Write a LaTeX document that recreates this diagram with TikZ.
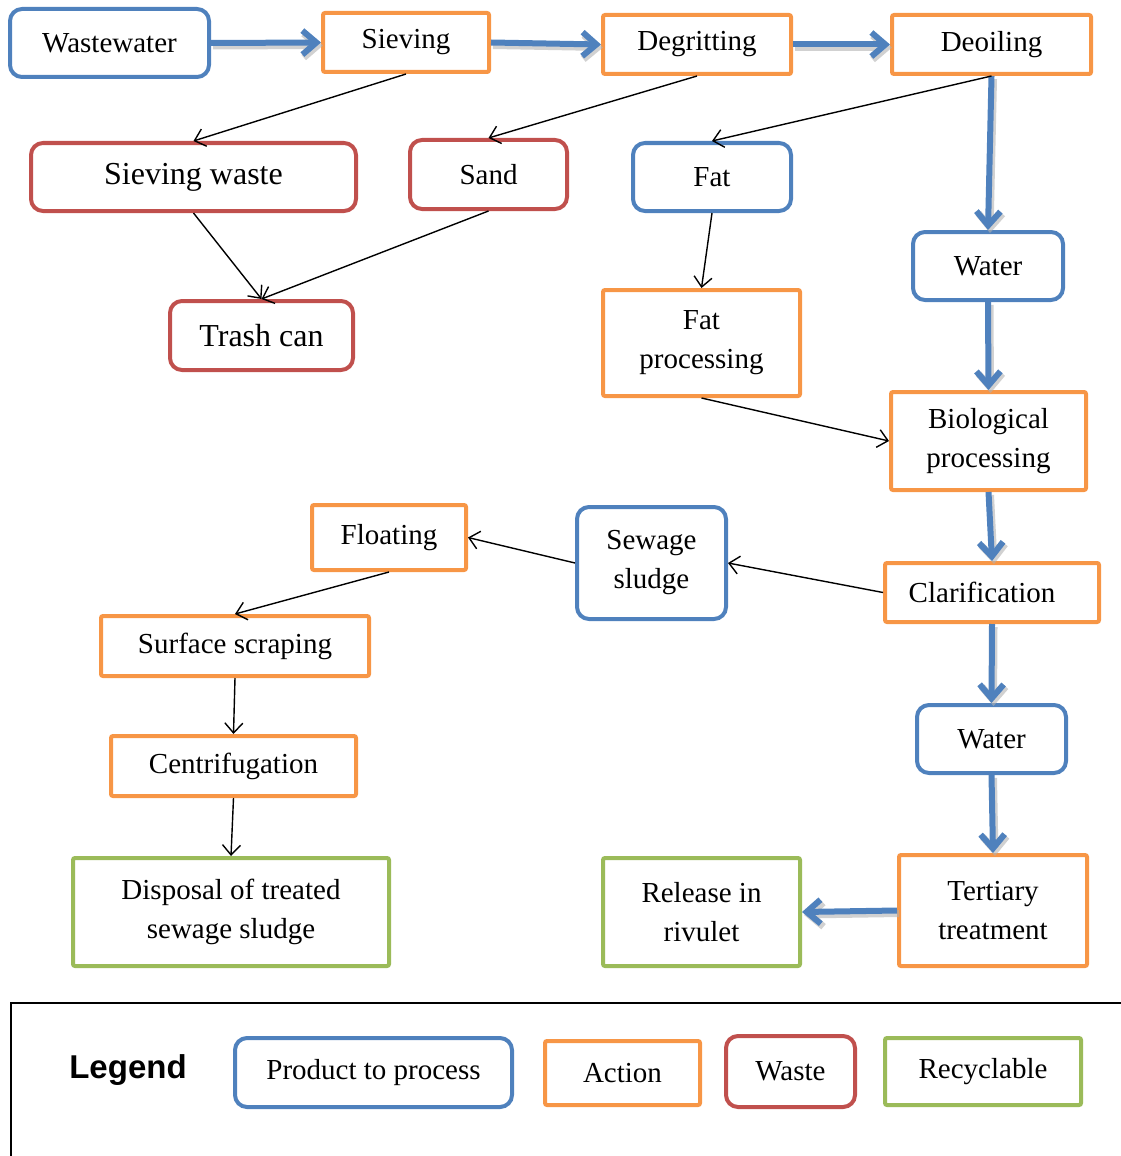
\documentclass[tikz,border=0pt]{standalone}
\usepackage{fontspec}
\setmainfont{Liberation Serif}
\newfontfamily\legendfont{Liberation Sans}
\usetikzlibrary{arrows.meta}
\definecolor{cblue}{HTML}{4F81BD}
\definecolor{corange}{HTML}{F79646}
\definecolor{cred}{HTML}{C0504D}
\definecolor{cgreen}{HTML}{9BBB59}
\begin{document}
\begin{tikzpicture}[x=0.5pt,y=-0.5pt,
  base/.style={line width=2pt, inner sep=0pt, align=center, font=\fontsize{14.5}{19.5}\selectfont},
  prod/.style={base, draw=cblue, rounded corners=6pt},
  act/.style={base, draw=corange, rounded corners=1pt},
  waste/.style={base, draw=cred, rounded corners=6pt},
  recy/.style={base, draw=cgreen, rounded corners=1pt},
  big/.style={font=\fontsize{16}{20}\selectfont},
  thin/.style={line width=0.7pt, -{Straight Barb[length=5pt,width=9pt]}},
  thick/.style={line width=3pt, draw=cblue, -{Straight Barb[length=7pt,width=12pt,line width=3pt]}},
  shadow/.style={line width=3.5pt, draw=black!30, opacity=0.6, -{Straight Barb[length=7pt,width=12pt,line width=3.5pt]}}
]
\useasboundingbox (0,0) rectangle (1120,1156);

% nodes
\node[prod, minimum width=99.5pt, minimum height=34pt] (ww) at (109.5,43) {Wastewater};
\node[act, minimum width=83pt, minimum height=29.5pt] (sv) at (406,42.5) {Sieving};
\node[act, minimum width=94pt, minimum height=29.5pt] (dg) at (697,44.5) {Degritting};
\node[act, minimum width=99.5pt, minimum height=29.5pt] (do) at (991.5,44.5) {Deoiling};
\node[waste, big, minimum width=162.5pt, minimum height=34pt] (sw) at (193.5,177) {Sieving waste};
\node[waste, minimum width=78.5pt, minimum height=34.5pt] (sd) at (488.5,174.5) {Sand};
\node[prod, minimum width=79pt, minimum height=34pt] (ft) at (712,177) {Fat};
\node[prod, minimum width=75pt, minimum height=34pt] (w1) at (988,266) {Water};
\node[waste, big, minimum width=91.5pt, minimum height=34.5pt] (tc) at (261.5,335.5) {Trash can};
\node[act, minimum width=98.5pt, minimum height=53pt] (fp) at (701.5,343) {Fat\\processing};
\node[act, minimum width=97.5pt, minimum height=49pt] (bp) at (988.5,441) {Biological\\processing};
\node[act, minimum width=77pt, minimum height=32.5pt] (fl) at (389,537.5) {Floating};
\node[prod, minimum width=74.5pt, minimum height=56pt] (ss) at (651.5,563) {Sewage\\sludge};
\node[act, minimum width=107pt, minimum height=29.5pt] (cl) at (992,592.5) {\hspace*{-10pt}Clarification};
\node[act, minimum width=134pt, minimum height=30pt] (su) at (235,646) {Surface scraping};
\node[prod, minimum width=74.5pt, minimum height=34pt] (w2) at (991.5,739) {Water};
\node[act, minimum width=122.5pt, minimum height=30pt] (ce) at (233.5,766) {Centrifugation};
\node[recy, minimum width=158pt, minimum height=54pt] (di) at (231,912) {Disposal of treated\\sewage sludge};
\node[recy, minimum width=98.5pt, minimum height=54pt] (re) at (701.5,912) {Release in\\rivulet};
\node[act, minimum width=94pt, minimum height=55.5pt] (tt) at (993,910.5) {Tertiary\\treatment};

% legend
\draw[line width=0.6pt] (1125,1003) -- (11,1003) -- (11,1165);
\node[inner sep=0pt, font=\legendfont\bfseries\fontsize{16.5}{20}\selectfont] (lg) at (128,1070) {Legend};
\node[prod, minimum width=138.5pt, minimum height=34.5pt] (lp) at (373.5,1072.5) {Product to process};
\node[act, minimum width=77.5pt, minimum height=32pt] (la) at (622.5,1073) {Action};
\node[waste, minimum width=64.5pt, minimum height=35.5pt] (lw) at (790.5,1071.5) {Waste};
\node[recy, minimum width=98pt, minimum height=33.5pt] (lr) at (983,1071.5) {Recyclable};

% thick blue arrows (with shadow)
\foreach \a/\b in {ww.east/sv.west, sv.east/dg.west, dg.east/do.west, do.south/w1.north, w1.south/bp.north, bp.south/cl.north, cl.south/w2.north, w2.south/tt.north, tt.west/re.east}{
  \draw[shadow, transform canvas={shift={(1pt,-1.5pt)}}] (\a) -- (\b);
  \draw[thick] (\a) -- (\b);
}

% thin arrows
\draw[thin] (sv.south) -- (sw.north);
\draw[thin] (dg.south) -- (sd.north);
\draw[thin] (do.south) -- (ft.north);
\draw[thin] (sw.south) -- (tc.north);
\draw[thin] (sd.south) -- (tc.north);
\draw[thin] (ft.south) -- (fp.north);
\draw[thin] (fp.south) -- (bp.west);
\draw[thin] (cl.west) -- (ss.east);
\draw[thin] (ss.west) -- (fl.east);
\draw[thin] (fl.south) -- (su.north);
\draw[thin] (su.south) -- (ce.north);
\draw[thin] (ce.south) -- (di.north);
\end{tikzpicture}
\end{document}
